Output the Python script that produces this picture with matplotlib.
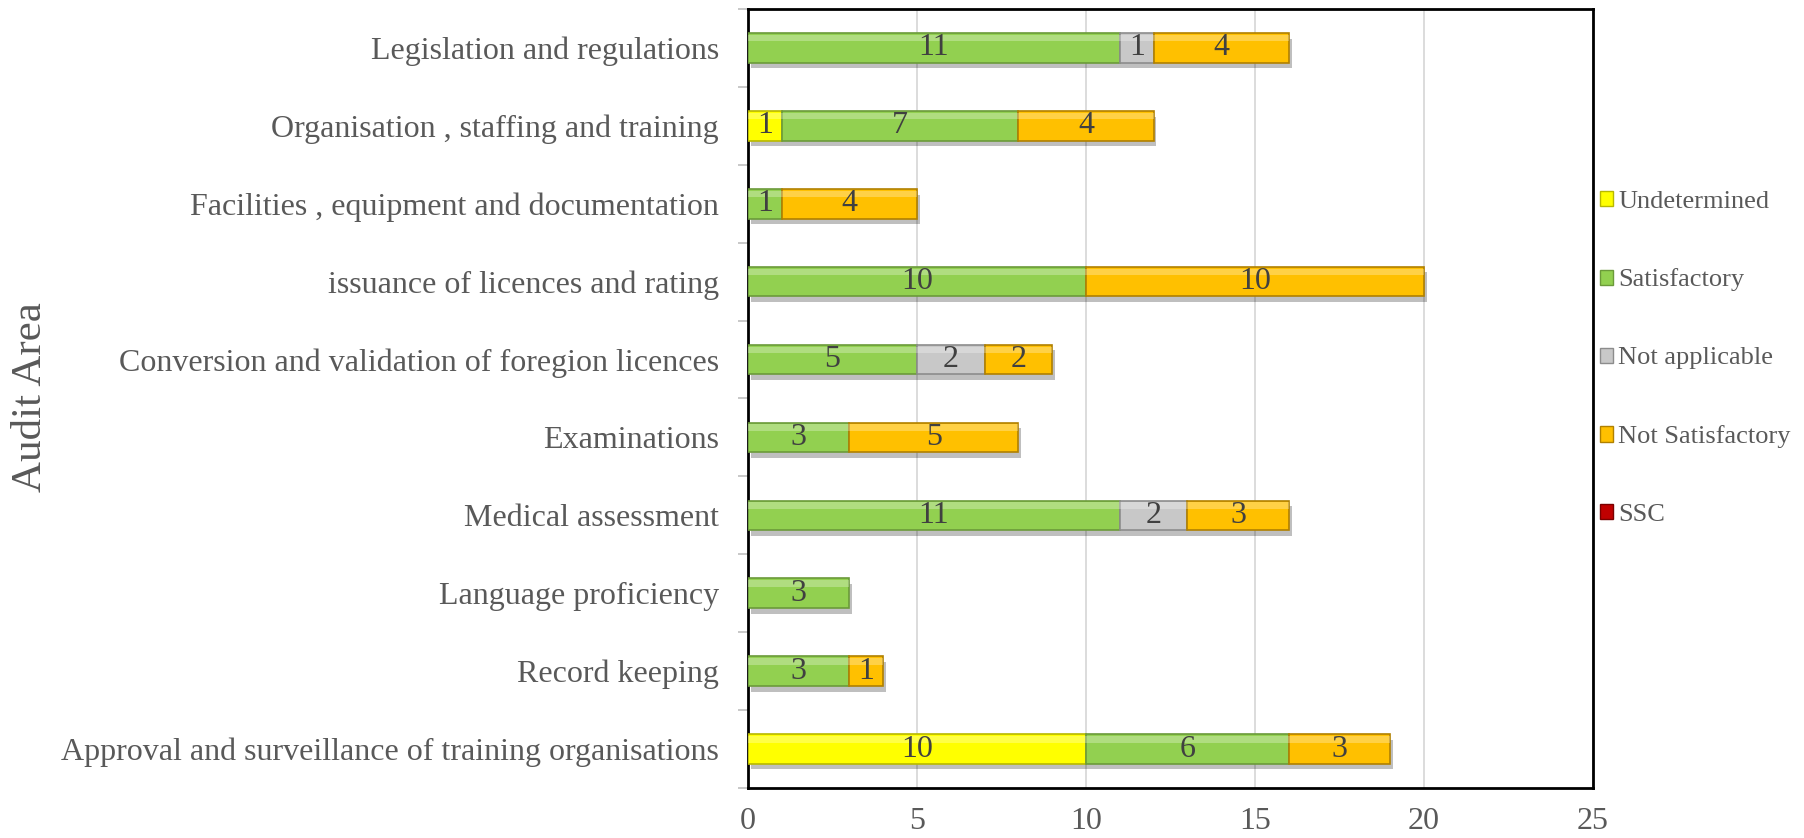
import matplotlib
matplotlib.use("Agg")
import matplotlib.pyplot as plt
import matplotlib.patheffects as pe
from matplotlib.patches import Patch
import numpy as np

# audit areas, top to bottom as in the chart
areas = [
    "Legislation and regulations",
    "Organisation , staffing and training",
    "Facilities , equipment and documentation",
    "issuance of licences and rating",
    "Conversion and validation of foregion licences",
    "Examinations",
    "Medical assessment",
    "Language proficiency",
    "Record keeping",
    "Approval and surveillance of training organisations",
]

undetermined = [0, 1, 0, 0, 0, 0, 0, 0, 0, 10]
satisfactory = [11, 7, 1, 10, 5, 3, 11, 3, 3, 6]
not_applicable = [1, 0, 0, 0, 2, 0, 2, 0, 0, 0]
not_satisfactory = [4, 4, 4, 10, 2, 5, 3, 0, 1, 3]
ssc = [0, 0, 0, 0, 0, 0, 0, 0, 0, 0]

series_names = ["Undetermined", "Satisfactory", "Not applicable", "Not Satisfactory", "SSC"]
series_vals = [undetermined, satisfactory, not_applicable, not_satisfactory, ssc]
colors = ["#FFFF00", "#92D050", "#C8C8C8", "#FFC000", "#C00000"]
edges = ["#B8B800", "#6B9A3A", "#8C8C8C", "#B08000", "#7A0000"]

xticks = [0, 5, 10, 15, 20, 25]

plt.rcParams["font.family"] = ["Liberation Serif", "DejaVu Serif"]
grey = "#595959"

fig = plt.figure(figsize=(18.04, 8.38), dpi=100)
ax = fig.add_axes([748 / 1804, 1 - 788 / 838, (1593 - 748) / 1804, (788 - 9) / 838])

y = np.arange(len(areas))
h = 0.38
left = np.zeros(len(areas))
shadow = [pe.SimplePatchShadow(offset=(2, -4), alpha=0.25, shadow_rgbFace="#000000"), pe.Normal()]

for name, vals, c, ec in zip(series_names, series_vals, colors, edges):
    vals = np.array(vals, dtype=float)
    m = vals > 0
    if m.any():
        ax.barh(y[m], vals[m], left=left[m], height=h, color=c, edgecolor=ec, linewidth=1.2,
                zorder=3, path_effects=shadow)
        # light bevel strip on top of each bar
        ax.barh(y[m] - h * 0.33, vals[m], left=left[m], height=h * 0.22, color="white",
                alpha=0.28, linewidth=0, zorder=4)
    for yi, l, v in zip(y, left, vals):
        if v > 0:
            ax.text(l + v / 2, yi, f"{int(v)}", ha="center", va="center",
                    fontsize=23, color="#404040", zorder=5)
    left += vals

ax.set_xlim(0, 25)
ax.set_ylim(len(areas) - 0.5, -0.5)
ax.set_xticks(xticks)
ax.set_yticks(y)
ax.set_yticklabels(areas)
ax.set_yticks(np.arange(-0.5, len(areas)), minor=True)

ax.grid(axis="x", color="#D9D9D9", linewidth=1.3, zorder=0)
ax.set_axisbelow(True)

for s in ax.spines.values():
    s.set_color("black")
    s.set_linewidth(2)

ax.tick_params(axis="x", length=0, pad=14, labelsize=23, labelcolor=grey)
ax.tick_params(axis="y", which="major", length=0, pad=21, labelsize=23, labelcolor=grey)
ax.tick_params(axis="y", which="minor", length=7, width=1.2, color="#BFBFBF")

fig.text(31 / 1804, 0.526, "Audit Area", rotation=90, ha="center", va="center",
         fontsize=31, color=grey)

handles = [Patch(facecolor=c, edgecolor=ec, linewidth=1) for c, ec in zip(colors, edges)]
fig.legend(handles, series_names, loc="upper left", bbox_to_anchor=(1589 / 1804, 1 - 180 / 838),
           frameon=False, fontsize=19, labelcolor=grey, handlelength=0.5, handleheight=0.5,
           handletextpad=0.2, labelspacing=2.12, borderaxespad=0)

fig.savefig("out.png", dpi=100)
